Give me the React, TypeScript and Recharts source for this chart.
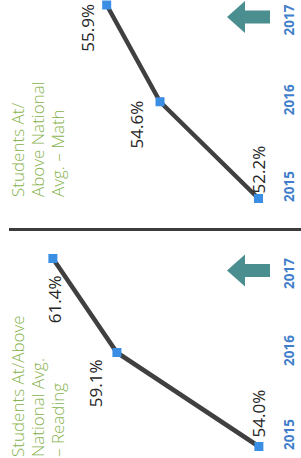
import React from 'react';
import { LineChart, Line, XAxis, YAxis, LabelList } from 'recharts';

// ---------- data ----------
const years = ['2015', '2016', '2017'];
const readingValues = [54.0, 59.1, 61.4];
const mathValues = [52.2, 54.6, 55.9];
const readingTitle = ['Students At/Above', 'National Avg.', '\u2013 Reading'];
const mathTitle = ['Students At/', 'Above National', 'Avg. \u2013 Math'];
const readingDomain = [53.6, 63.3];
const mathDomain = [51.92, 58.5];

const readingData = years.map((year, i) => ({ year, value: readingValues[i] }));
const mathData = years.map((year, i) => ({ year, value: mathValues[i] }));

// ---------- styling / placement ----------
const readingLabelPlace = [
  { dx: 9, dy: 0, anchor: 'start' },
  { dx: -7, dy: -21, anchor: 'end' },
  { dx: -17, dy: 2, anchor: 'end' },
];
const mathLabelPlace = [
  { dx: 5, dy: 0, anchor: 'start' },
  { dx: 1, dy: -24, anchor: 'end' },
  { dx: 1, dy: -19, anchor: 'end' },
];
const tickShift = [12, 2, -15];

const LINE_COLOR = '#404040';
const DOT_COLOR = '#3a8fe4';
const YEAR_COLOR = '#3f7ecb';
const TITLE_COLOR = '#88b34f';
const ARROW_COLOR = '#4a8e90';
const FONT = "'Open Sans', 'DejaVu Sans', sans-serif";

const SquareDot = (props: any) => {
  const { cx, cy } = props;
  if (cx == null || cy == null) return null;
  return <rect x={cx - 4.5} y={cy - 4.5} width={9} height={9} fill={DOT_COLOR} />;
};

const arrowPath = (cx: number, y: number) =>
  `M${cx} ${y - 43} L${cx + 16} ${y - 25} L${cx + 6.5} ${y - 25} L${cx + 6.5} ${y} L${cx - 6.5} ${y} L${cx - 6.5} ${y - 25} L${cx - 16} ${y - 25} Z`;

const YearTick = (props: any) => {
  const { x, y, payload, index } = props;
  const tx = x + (tickShift[index] ?? 0);
  const isLast = index === years.length - 1;
  return (
    <g>
      {isLast && <path d={arrowPath(tx + 3, y)} fill={ARROW_COLOR} />}
      <text
        x={tx}
        y={y + 19}
        textAnchor="middle"
        dominantBaseline="central"
        fill={YEAR_COLOR}
        fontWeight="bold"
        fontSize={13.5}
        fontFamily={FONT}
      >
        {payload.value}
      </text>
    </g>
  );
};

const makeLabel = (place: any[]) => (props: any) => {
  const { x, y, value, index } = props;
  const p = place[index] || { dx: 0, dy: 0, anchor: 'middle' };
  return (
    <text
      x={x + p.dx}
      y={y + p.dy}
      textAnchor={p.anchor}
      dominantBaseline="central"
      fontSize={17}
      fill="#262626"
      fontFamily={FONT}
    >
      {Number(value).toFixed(1)}%
    </text>
  );
};

function Panel({ data, domain, margin, labelPlace, title, titleLeft, left }: any) {
  return (
    <div style={{ position: 'absolute', left, top: 0, width: 229, height: 301 }}>
      <LineChart width={229} height={301} data={data} margin={margin}>
        <XAxis
          dataKey="year"
          type="category"
          tickLine={false}
          axisLine={false}
          tickSize={0}
          tickMargin={0}
          height={31}
          interval={0}
          tick={<YearTick />}
        />
        <YAxis hide type="number" domain={domain} />
        <Line
          type="linear"
          dataKey="value"
          stroke={LINE_COLOR}
          strokeWidth={4.5}
          dot={<SquareDot />}
          activeDot={false}
          isAnimationActive={false}
        >
          <LabelList dataKey="value" content={makeLabel(labelPlace)} />
        </Line>
      </LineChart>
      <div
        style={{
          position: 'absolute',
          left: titleLeft,
          top: 8,
          fontFamily: FONT,
          fontWeight: 300,
          fontSize: 17,
          lineHeight: '20px',
          color: TITLE_COLOR,
          whiteSpace: 'nowrap',
        }}
      >
        {title.map((t: string) => (
          <div key={t}>{t}</div>
        ))}
      </div>
    </div>
  );
}

export default function App() {
  return (
    <div
      style={{
        position: 'absolute',
        left: 0,
        top: 0,
        width: 301,
        height: 458,
        overflow: 'hidden',
        background: '#ffffff',
      }}
    >
      <div
        style={{
          position: 'absolute',
          left: 0,
          top: 0,
          width: 458,
          height: 301,
          transformOrigin: '0 0',
          transform: 'translateY(458px) rotate(-90deg)',
        }}
      >
        <Panel
          data={readingData}
          domain={readingDomain}
          margin={{ top: 0, right: 29.5, bottom: 0, left: 11.5 }}
          labelPlace={readingLabelPlace}
          title={readingTitle}
          titleLeft={1}
          left={0}
        />
        <Panel
          data={mathData}
          domain={mathDomain}
          margin={{ top: 0, right: 5, bottom: 0, left: 30.5 }}
          labelPlace={mathLabelPlace}
          title={mathTitle}
          titleLeft={32}
          left={229}
        />
        <div
          style={{
            position: 'absolute',
            left: 227,
            top: 9,
            width: 3,
            height: 292,
            background: '#3c3c3c',
          }}
        />
      </div>
    </div>
  );
}
